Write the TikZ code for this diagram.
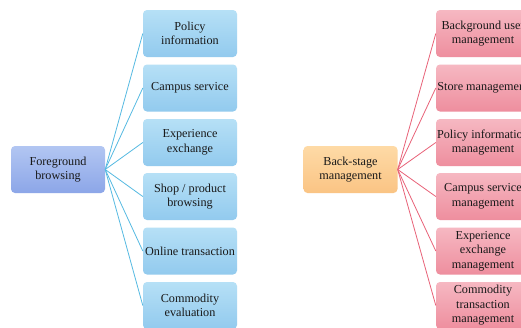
\documentclass[tikz,border=0pt]{standalone}
\usepackage{fontspec}
\setmainfont{Liberation Serif}
\begin{document}
\begin{tikzpicture}[x=1pt,y=-1pt,
  base/.style={rounded corners=4pt, minimum width=94pt, minimum height=47pt, align=center, inner sep=1pt, font=\fontsize{12.2}{14.5}\selectfont, text=black!90},
  lchild/.style={base, top color={rgb,255:red,182;green,224;blue,246}, bottom color={rgb,255:red,146;green,202;blue,238}},
  rchild/.style={base, top color={rgb,255:red,246;green,184;blue,194}, bottom color={rgb,255:red,238;green,142;blue,158}},
  lroot/.style={base, top color={rgb,255:red,178;green,198;blue,242}, bottom color={rgb,255:red,140;green,166;blue,232}},
  rroot/.style={base, top color={rgb,255:red,254;green,218;blue,166}, bottom color={rgb,255:red,250;green,196;blue,132}},
  lline/.style={draw={rgb,255:red,86;green,186;blue,226}, line width=0.8pt},
  rline/.style={draw={rgb,255:red,232;green,98;blue,120}, line width=0.8pt}]
\useasboundingbox (0,0) rectangle (521,327);
\clip (0,0) rectangle (521,327);
\fill[white] (0,0) rectangle (521,327);
\node[lroot] (L) at (58,169.5) {Foreground\\browsing};
\node[lchild] (L1) at (190,33.5) {Policy\\information};
\node[lchild] (L2) at (190,88) {Campus service};
\node[lchild] (L3) at (190,142.5) {Experience\\exchange};
\node[lchild] (L4) at (190,196.5) {Shop / product\\browsing};
\node[lchild] (L5) at (190,251) {Online transaction};
\node[lchild] (L6) at (190,305.5) {Commodity\\evaluation};
\foreach \i in {1,...,6} \draw[lline] (L.east) -- (L\i.west);
\node[rroot] (R) at (350.5,169.5) {Back-stage\\management};
\node[rchild] (R1) at (483,33.5) {Background user\\management};
\node[rchild] (R2) at (483,88) {Store management};
\node[rchild] (R3) at (483,142.5) {Policy information\\management};
\node[rchild] (R4) at (483,196.5) {Campus service\\management};
\node[rchild] (R5) at (483,251) {Experience\\exchange\\management};
\node[rchild] (R6) at (483,305.5) {Commodity\\transaction\\management};
\foreach \i in {1,...,6} \draw[rline] (R.east) -- (R\i.west);
\end{tikzpicture}
\end{document}
